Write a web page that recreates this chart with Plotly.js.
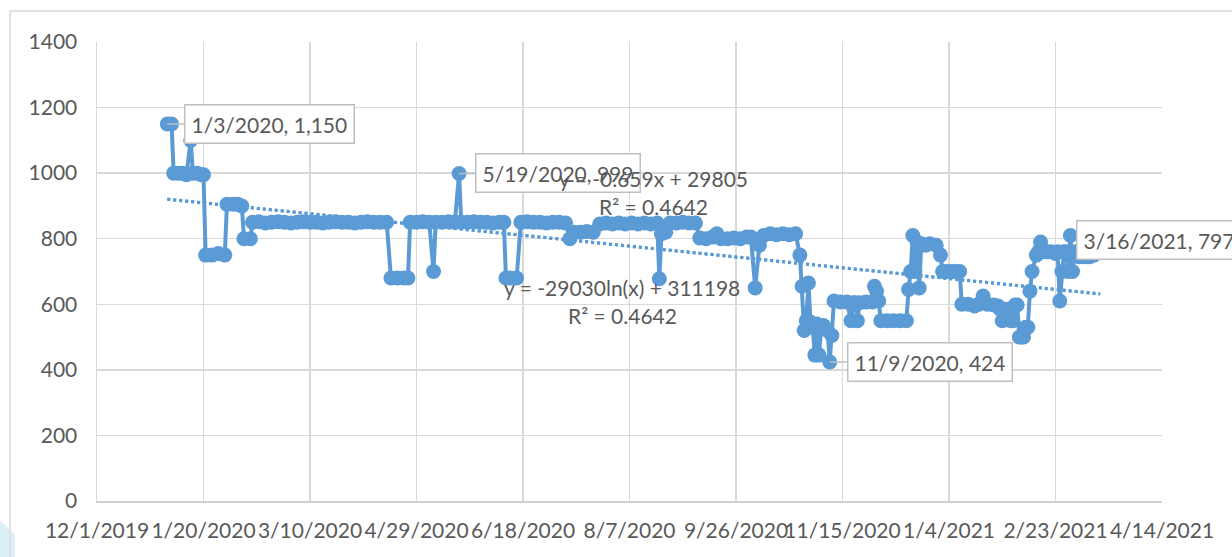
<!DOCTYPE html>
<html>
<head>
<meta charset="utf-8">
<script src="https://cdn.plot.ly/plotly-3.0.1.min.js"></script>
<style>
html,body{margin:0;padding:0;background:#fff;}
#chart{width:1232px;height:557px;}
</style>
</head>
<body>
<div id="chart"></div>
<script>
// ---- data ----
const dates = [
'2020-01-03','2020-01-05','2020-01-06','2020-01-08','2020-01-10','2020-01-12','2020-01-14','2020-01-15','2020-01-17','2020-01-19','2020-01-20',
'2020-01-21','2020-01-24','2020-01-27','2020-01-30','2020-01-31','2020-02-03','2020-02-05','2020-02-07','2020-02-08','2020-02-11',
'2020-02-12','2020-02-15','2020-02-18','2020-02-21','2020-02-24','2020-02-27','2020-03-01','2020-03-04','2020-03-07','2020-03-10',
'2020-03-13','2020-03-16','2020-03-19','2020-03-22','2020-03-25','2020-03-28','2020-03-31','2020-04-03','2020-04-06','2020-04-09',
'2020-04-12','2020-04-15','2020-04-17','2020-04-20','2020-04-23','2020-04-25','2020-04-26','2020-04-29','2020-05-02','2020-05-05',
'2020-05-07','2020-05-08','2020-05-11','2020-05-14','2020-05-17','2020-05-19','2020-05-20','2020-05-23','2020-05-26','2020-05-29',
'2020-06-01','2020-06-04','2020-06-07','2020-06-09','2020-06-10','2020-06-12','2020-06-15','2020-06-17','2020-06-20','2020-06-23',
'2020-06-26','2020-06-29','2020-07-02','2020-07-05','2020-07-08','2020-07-10','2020-07-12','2020-07-15','2020-07-18','2020-07-21',
'2020-07-24','2020-07-27','2020-07-30','2020-08-02','2020-08-05','2020-08-08','2020-08-11','2020-08-14','2020-08-17','2020-08-20',
'2020-08-21','2020-08-22','2020-08-24','2020-08-26','2020-08-29','2020-09-01','2020-09-04','2020-09-07','2020-09-09','2020-09-12',
'2020-09-15','2020-09-17','2020-09-19','2020-09-22','2020-09-25','2020-09-28','2020-10-01','2020-10-03','2020-10-05','2020-10-07',
'2020-10-09','2020-10-12','2020-10-15','2020-10-18','2020-10-21','2020-10-24','2020-10-26','2020-10-27','2020-10-28','2020-10-29',
'2020-10-30','2020-10-31','2020-11-01','2020-11-02','2020-11-03','2020-11-04','2020-11-05','2020-11-06','2020-11-07','2020-11-08',
'2020-11-09','2020-11-10','2020-11-11','2020-11-14','2020-11-17','2020-11-19','2020-11-20','2020-11-21','2020-11-22','2020-11-23',
'2020-11-26','2020-11-29','2020-11-30','2020-12-01','2020-12-02','2020-12-03','2020-12-06','2020-12-09','2020-12-12','2020-12-15',
'2020-12-16','2020-12-17','2020-12-18','2020-12-19','2020-12-20','2020-12-21','2020-12-22','2020-12-24','2020-12-26','2020-12-29',
'2020-12-31','2021-01-01','2021-01-03','2021-01-05','2021-01-07','2021-01-09','2021-01-10','2021-01-13','2021-01-16','2021-01-18',
'2021-01-20','2021-01-22','2021-01-25','2021-01-27','2021-01-28','2021-01-29','2021-01-30','2021-02-01','2021-02-02','2021-02-03',
'2021-02-04','2021-02-05','2021-02-06','2021-02-07','2021-02-08','2021-02-09','2021-02-10','2021-02-11','2021-02-12','2021-02-14',
'2021-02-15','2021-02-16','2021-02-17','2021-02-19','2021-02-21','2021-02-23','2021-02-24','2021-02-25','2021-02-26','2021-02-27',
'2021-02-28','2021-03-01','2021-03-02','2021-03-03','2021-03-04','2021-03-06','2021-03-08','2021-03-10','2021-03-11','2021-03-13',
'2021-03-15','2021-03-16'
];
const prices = [
1150,1150,1000,1000,1000,995,1100,1000,1000,995,995,
750,750,755,750,905,905,905,900,800,800,
850,852,848,850,852,850,848,850,852,850,
850,848,850,852,850,850,848,850,852,850,
850,850,680,680,680,680,850,850,852,850,
700,850,850,852,850,999,850,850,852,850,
850,848,850,850,680,680,680,850,852,850,
850,848,850,850,848,800,820,820,822,820,
845,848,845,848,845,848,845,848,845,848,
678,815,820,848,848,850,848,848,802,800,
805,815,800,800,802,800,805,805,650,780,
810,815,812,815,812,815,750,655,520,550,
665,545,530,445,540,445,530,535,525,520,
424,505,610,607,607,550,605,605,550,605,
607,607,655,640,610,550,550,550,550,550,
645,700,810,700,790,650,785,780,785,780,
750,700,700,700,700,700,600,600,595,600,
625,600,598,595,585,550,585,585,550,550,
598,598,500,500,500,530,530,640,700,750,
760,790,760,760,760,755,760,610,700,760,
760,700,810,700,760,745,745,745,745,750,
790,797
];
// trendline endpoints (dotted trendlines as drawn)
const trendDates = ['2020-01-03','2021-03-16'];
const trendLinear = [920, 631];
const trendLog = [921, 632];
// axis ticks
const xTickVals = ['2019-12-01','2020-01-20','2020-03-10','2020-04-29','2020-06-18','2020-08-07','2020-09-26','2020-11-15','2021-01-04','2021-02-23','2021-04-14'];
const xTickText = ['12/1/2019','1/20/2020','3/10/2020','4/29/2020','6/18/2020','8/7/2020','9/26/2020','11/15/2020','1/4/2021','2/23/2021','4/14/2021'];
// labels
const callouts = [
  {d:'2020-01-03', v:1150, text:'1/3/2020, 1,150'},
  {d:'2020-05-19', v:999, text:'5/19/2020, 999'},
  {d:'2020-11-09', v:424, text:'11/9/2020, 424'},
  {d:'2021-03-16', v:797, text:'3/16/2021, 797'}
];
const eqLinear = 'y = -0.659x + 29805';
const eqLog = 'y = -29030ln(x) + 311198';
const r2Text = 'R² = 0.4642';

const BLUE = '#5b9bd5';
const TXT = '#595959';
const FONT = 'Lato, "Open Sans", sans-serif';
const FS = 21;

const traces = [
  {x: dates, y: prices, type:'scatter', mode:'lines+markers',
   line:{color:BLUE, width:4}, marker:{color:BLUE, size:15}, hoverinfo:'skip'},
  {x: trendDates, y: trendLinear, type:'scatter', mode:'lines',
   line:{color:BLUE, width:3, dash:'dot'}, hoverinfo:'skip'},
  {x: trendDates, y: trendLog, type:'scatter', mode:'lines',
   line:{color:BLUE, width:3, dash:'dot'}, hoverinfo:'skip'}
];

const boxStyle = {font:{family:FONT, size:FS, color:TXT}, bgcolor:'#ffffff', bordercolor:'#bfbfbf', borderwidth:1.5, borderpad:6};
const annotations = [
  Object.assign({x:callouts[0].d, y:callouts[0].v, text:callouts[0].text, showarrow:true, ax:102, ay:0, arrowhead:0, arrowwidth:1.5, arrowcolor:'#bfbfbf', standoff:0}, boxStyle),
  Object.assign({x:callouts[1].d, y:callouts[1].v, text:callouts[1].text, showarrow:true, ax:99, ay:0, arrowhead:0, arrowwidth:1.5, arrowcolor:'#bfbfbf', standoff:0}, boxStyle),
  Object.assign({x:callouts[2].d, y:callouts[2].v, text:callouts[2].text, showarrow:true, ax:100, ay:0, arrowhead:0, arrowwidth:1.5, arrowcolor:'#bfbfbf', standoff:0}, boxStyle),
  Object.assign({x:callouts[3].d, y:callouts[3].v, text:callouts[3].text, showarrow:false, xanchor:'left', yanchor:'middle', xshift:-24}, boxStyle),
  {xref:'paper', yref:'paper', x:0.5221, y:0.7342, text:eqLinear, showarrow:false, font:{family:FONT, size:FS, color:TXT}},
  {xref:'paper', yref:'paper', x:0.5230, y:0.6732, text:r2Text, showarrow:false, font:{family:FONT, size:FS, color:TXT}},
  {xref:'paper', yref:'paper', x:0.4930, y:0.4662, text:eqLog, showarrow:false, font:{family:FONT, size:FS, color:TXT}},
  {xref:'paper', yref:'paper', x:0.4930, y:0.4031, text:r2Text, showarrow:false, font:{family:FONT, size:FS, color:TXT}}
];

const layout = {
  width:1232, height:557,
  margin:{l:97, r:70, t:42, b:56},
  paper_bgcolor:'#ffffff', plot_bgcolor:'#ffffff',
  showlegend:false, hovermode:false,
  font:{family:FONT, size:FS, color:TXT},
  xaxis:{type:'date', range:['2019-12-01','2021-04-14'], tickmode:'array', tickvals:xTickVals, ticktext:xTickText,
         tickangle:0, showgrid:true, gridcolor:'#d9d9d9', gridwidth:1.5, showline:true, linecolor:'#d0d0d0', linewidth:1.5,
         ticks:'', ticklabelstandoff:10, tickfont:{family:FONT, size:FS, color:TXT}, zeroline:false, fixedrange:true},
  yaxis:{range:[0,1400], dtick:200, tick0:0, showgrid:true, gridcolor:'#d9d9d9', gridwidth:1.5, zeroline:false,
         showline:true, linecolor:'#d9d9d9', linewidth:1.5,
         ticks:'', ticklabelstandoff:14, tickfont:{family:FONT, size:FS, color:TXT}, fixedrange:true},
  annotations: annotations,
  shapes:[
    {type:'path', xref:'paper', yref:'paper', path:'M -0.0911 -0.0414 L -0.077 -0.0741 L -0.077 -0.13 L -0.0911 -0.13 Z', fillcolor:'#dcf0f8', line:{width:0}, layer:'below'},
    {type:'rect', xref:'paper', yref:'paper', x0:-0.0817, x1:1.2, y0:-0.3, y1:1.0675, line:{color:'#d9d9d9', width:1.5}, layer:'below'}
  ]
};

Plotly.newPlot('chart', traces, layout, {staticPlot:true, displayModeBar:false});
</script>
</body>
</html>
